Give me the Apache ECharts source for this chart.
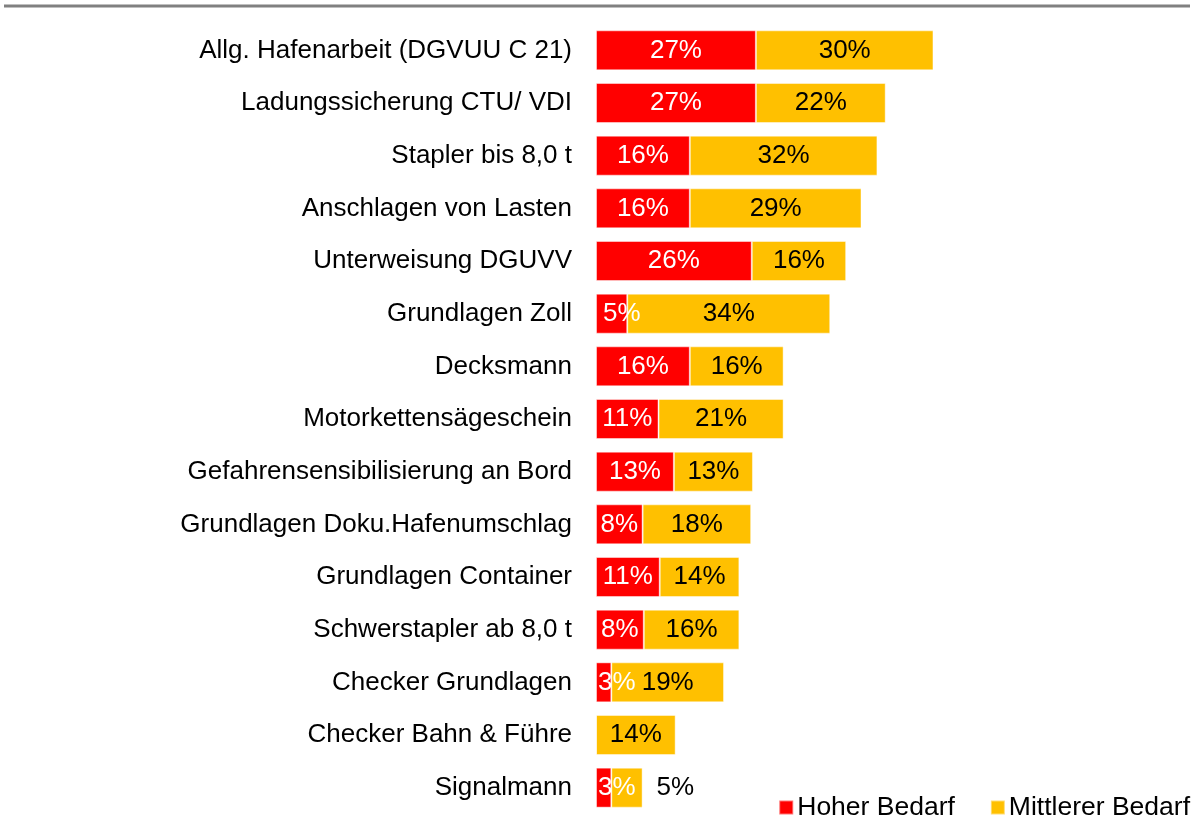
<!DOCTYPE html>
<html>
<head>
<meta charset="utf-8">
<script src="https://cdn.jsdelivr.net/npm/echarts@6/dist/echarts.min.js"></script>
<style>html,body{margin:0;padding:0;background:#fff}#c{width:1201px;height:816px}</style>
</head>
<body>
<div id="c"></div>
<script>
const categories = ["Allg. Hafenarbeit (DGVUU C 21)","Ladungssicherung CTU/ VDI","Stapler bis 8,0 t","Anschlagen von Lasten","Unterweisung DGUVV","Grundlagen Zoll","Decksmann","Motorkettensägeschein","Gefahrensensibilisierung an Bord","Grundlagen Doku.Hafenumschlag","Grundlagen Container","Schwerstapler ab 8,0 t","Checker Grundlagen","Checker Bahn & Führe","Signalmann"];
const hoherBedarf = [27.1, 27.1, 15.9, 15.9, 26.4, 5.3, 15.9, 10.6, 13.2, 7.9, 10.8, 8.1, 2.6, 0, 2.6];
const mittlererBedarf = [30.1, 22.0, 31.8, 29.1, 16.0, 34.4, 15.9, 21.2, 13.4, 18.4, 13.5, 16.2, 19.1, 13.5, 5.3];
const seriesNames = ["Hoher Bedarf", "Mittlerer Bedarf"];

const FONT = "Liberation Sans, Arial, sans-serif";
const fmt = p => p.value > 0 ? Math.round(p.value) + '%' : '';

const redData = hoherBedarf.map((v, i) => {
  if (v > 0 && v < 4) return {value: v, label: {position: 'insideLeft', distance: 2}};
  if (v > 0 && v < 6) return {value: v, label: {position: 'insideLeft', distance: 7}};
  return v;
});
const yellowData = mittlererBedarf.map((v, i) => {
  if (v < 6) return {value: v, label: {position: 'right', distance: 14, color: '#000'}};
  return v;
});

const chart = echarts.init(document.getElementById('c'), null, {renderer: 'canvas'});
chart.setOption({
  animation: false,
  textStyle: {fontFamily: FONT},
  grid: {left: 596, right: 15, top: 24, bottom: 2, containLabel: false},
  xAxis: {type: 'value', min: 0, max: 100, show: false},
  yAxis: {
    type: 'category', data: categories, inverse: true,
    axisLine: {show: false}, axisTick: {show: false},
    axisLabel: {color: '#000', fontSize: 26, margin: 24, fontFamily: FONT}
  },
  legend: {
    data: seriesNames, right: 6, top: 789, icon: 'rect',
    itemWidth: 14, itemHeight: 14, itemGap: 35,
    textStyle: {fontSize: 26.5, color: '#000', fontFamily: FONT, padding: [0,0,0,-1]}
  },
  graphic: [{
    type: 'line', shape: {x1: 4, y1: 6, x2: 1190, y2: 6},
    style: {stroke: '#808080', lineWidth: 3}
  }],
  series: [
    {
      name: seriesNames[0], type: 'bar', stack: 's', data: redData, barWidth: 40, z: 3,
      itemStyle: {color: '#FF0000', borderColor: 'rgba(255,255,255,0.45)', borderWidth: 1},
      label: {show: true, position: 'inside', color: '#fff', fontSize: 26, fontFamily: FONT, formatter: fmt}
    },
    {
      name: seriesNames[1], type: 'bar', stack: 's', data: yellowData, barWidth: 40, z: 2,
      itemStyle: {color: '#FFC000', borderColor: 'rgba(255,255,255,0.45)', borderWidth: 1},
      label: {show: true, position: 'inside', color: '#000', fontSize: 26, fontFamily: FONT, formatter: fmt}
    }
  ]
});
</script>
</body>
</html>
